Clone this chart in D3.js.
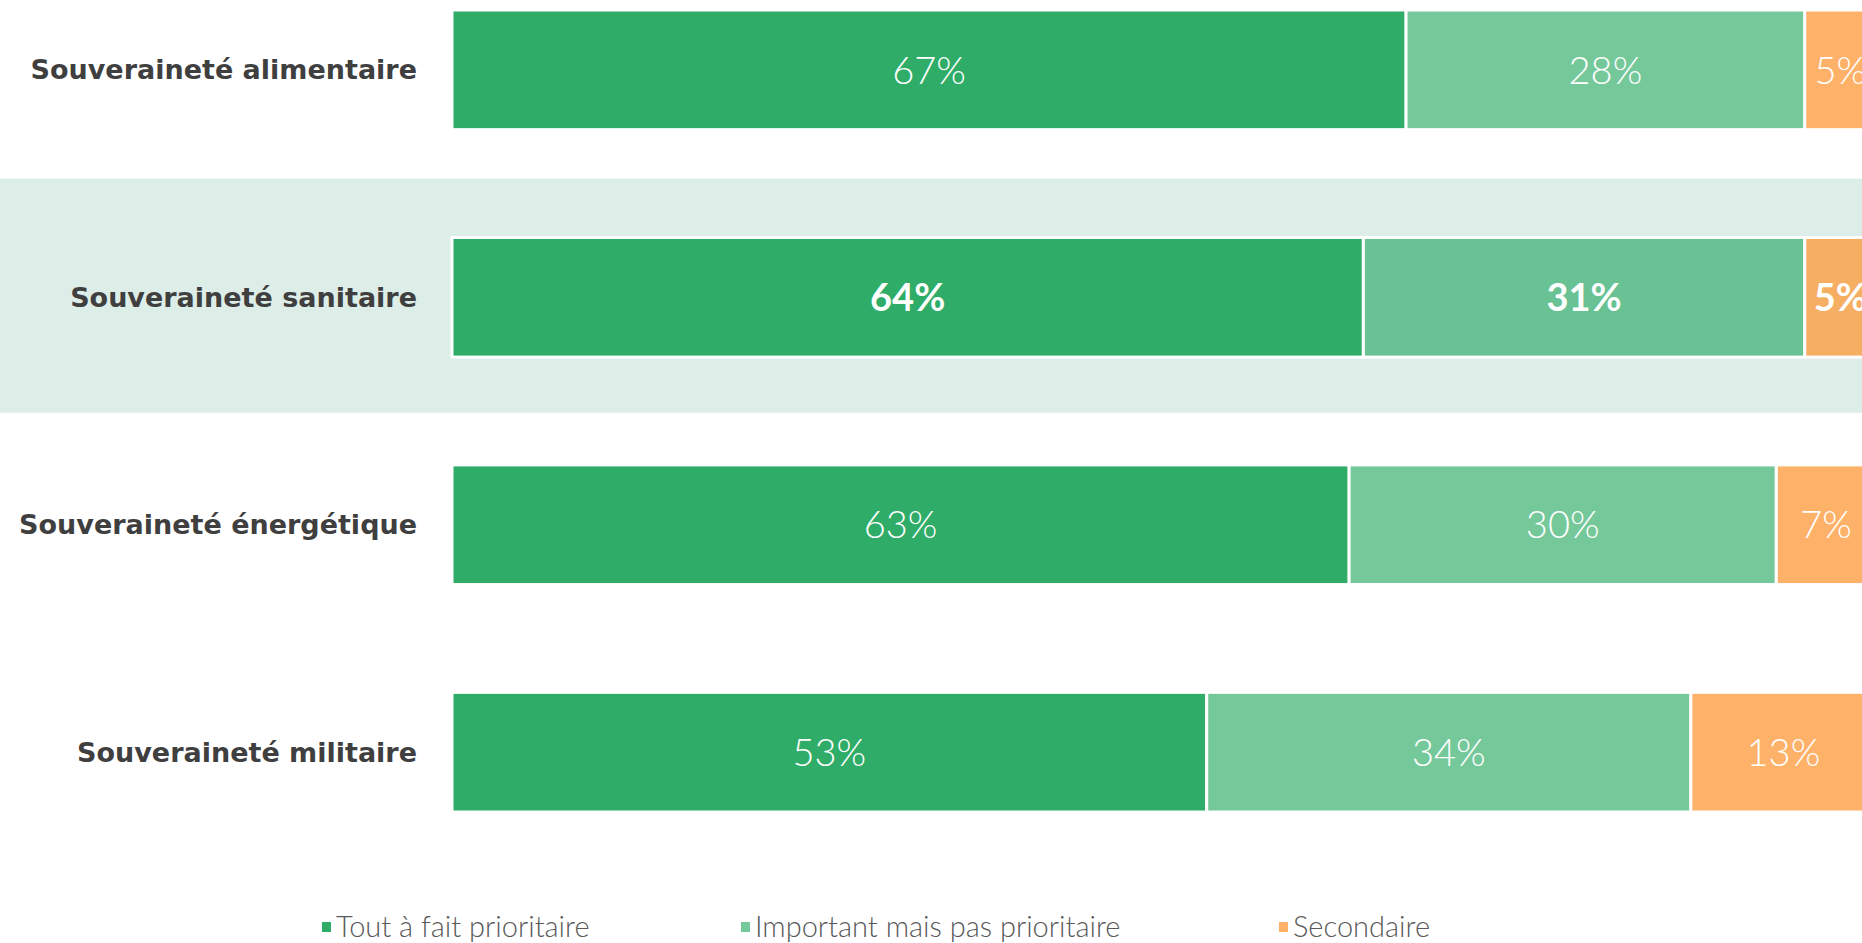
<!DOCTYPE html>
<html>
<head>
<meta charset="utf-8">
<script src="https://cdn.jsdelivr.net/npm/d3@7"></script>
<style>
  body { margin: 0; background: #ffffff; overflow: hidden; }
  svg { display: block; }
</style>
</head>
<body>
<div class="canvas"></div>
<script>
// data
var categories = ["Souveraineté alimentaire", "Souveraineté sanitaire", "Souveraineté énergétique", "Souveraineté militaire"];
var seriesNames = ["Tout à fait prioritaire", "Important mais pas prioritaire", "Secondaire"];
var toutAFait = [67, 64, 63, 53];
var important = [28, 31, 30, 34];
var secondaire = [5, 5, 7, 13];
var highlighted = "Souveraineté sanitaire";

var colors = ["#2fad68", "#75c89a", "#feb168"];
var colorsHighlight = ["#2fad68", "#69c293", "#f6ae62"];

var width = 1862, height = 943;

var rows = categories.map(function(c, i){
	return { cat: c, "Tout à fait prioritaire": toutAFait[i], "Important mais pas prioritaire": important[i], "Secondaire": secondaire[i] };
});

var svg = d3.select(".canvas")
	.append("svg")
	.attr("width", width)
	.attr("height", height);

var x = d3.scaleLinear()
	.domain([0, 100])
	.range([452, 1876]);

var y = d3.scaleBand()
	.domain(categories)
	.range([10, 812])
	.paddingInner(0.474)
	.paddingOuter(0);

var bw = y.bandwidth();

// highlight band behind the sanitaire row
svg.append("rect")
	.attr("x", 0)
	.attr("y", y(highlighted) + bw / 2 - y.step() * 0.522)
	.attr("width", width)
	.attr("height", y.step() * 1.03)
	.attr("fill", "#ddede7");

var stacked = d3.stack().keys(seriesNames)(rows);

var layers = svg.selectAll("g.layer")
	.data(stacked)
	.enter().append("g")
	.attr("class", "layer");

layers.selectAll("rect")
	.data(function(d, k){ return d.map(function(p){ return { p: p, k: k }; }); })
	.enter().append("rect")
	.attr("x", function(d){ return x(d.p[0]); })
	.attr("y", function(d){ return y(d.p.data.cat); })
	.attr("width", function(d){ return x(d.p[1]) - x(d.p[0]); })
	.attr("height", bw)
	.attr("fill", function(d){ return d.p.data.cat === highlighted ? colorsHighlight[d.k] : colors[d.k]; })
	.attr("stroke", "#ffffff")
	.attr("stroke-width", 3);

layers.selectAll("text")
	.data(function(d, k){ return d.map(function(p){ return { p: p, k: k }; }); })
	.enter().append("text")
	.attr("x", function(d){ return (x(d.p[0]) + x(d.p[1])) / 2; })
	.attr("y", function(d){ return y(d.p.data.cat) + bw / 2; })
	.attr("dy", "0.36em")
	.attr("text-anchor", "middle")
	.attr("font-family", "Lato, 'Open Sans', sans-serif")
	.attr("font-weight", function(d){ return d.p.data.cat === highlighted ? 700 : 300; })
	.attr("font-size", "38px")
	.attr("fill", "#ffffff")
	.text(function(d){ return (d.p[1] - d.p[0]) + "%"; });

// category labels
svg.selectAll("text.cat")
	.data(categories)
	.enter().append("text")
	.attr("class", "cat")
	.attr("x", 417)
	.attr("y", function(d){ return y(d) + bw / 2; })
	.attr("dy", "0.35em")
	.attr("text-anchor", "end")
	.attr("font-family", "'DejaVu Sans', sans-serif")
	.attr("font-weight", "bold")
	.attr("font-size", "27px")
	.attr("fill", "#3f3f3f")
	.text(function(d){ return d; });

// legend
var legendX = [322, 741, 1279];
var legend = svg.selectAll("g.legend")
	.data(seriesNames)
	.enter().append("g")
	.attr("class", "legend")
	.attr("transform", function(d, i){ return "translate(" + legendX[i] + ",927)"; });

legend.append("rect")
	.attr("x", 0)
	.attr("y", -5)
	.attr("width", 9)
	.attr("height", 10)
	.attr("fill", function(d, i){ return colors[i]; });

legend.append("text")
	.attr("x", 14)
	.attr("y", 0)
	.attr("dy", "0.36em")
	.attr("font-family", "Lato, sans-serif")
	.attr("font-weight", 300)
	.attr("font-size", "29px")
	.attr("fill", "#595959")
	.text(function(d){ return d; });
</script>
</body>
</html>
